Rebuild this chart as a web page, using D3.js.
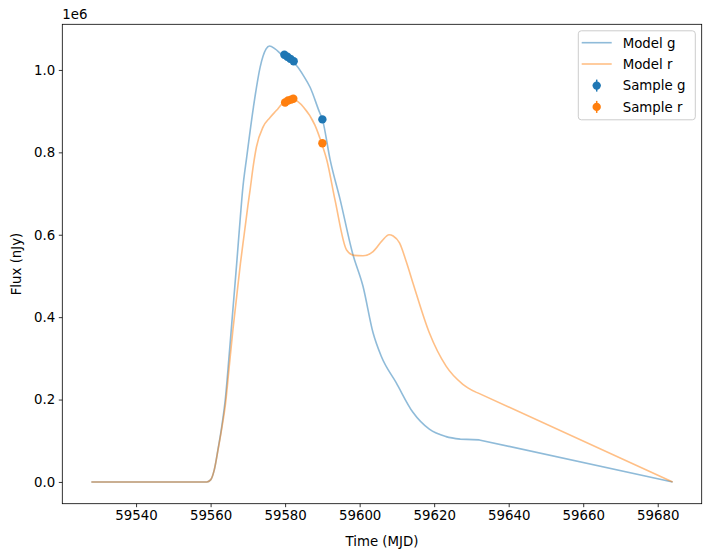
<!DOCTYPE html>
<html>
<head>
<meta charset="utf-8">
<script src="https://cdn.jsdelivr.net/npm/d3@7"></script>
<style>
  body { margin: 0; background: #fff; }
  svg { display: block; font-family: "DejaVu Sans", sans-serif; }
</style>
</head>
<body>
<svg id="chart" width="711" height="558"></svg>
<script>
// ---- Data (flux in nJy) ----
const modelGTime = [59528, 59540, 59559, 59560, 59561, 59562, 59563, 59564, 59565, 59566, 59567, 59568, 59568.6, 59569.7, 59571.5, 59573.3, 59574.9, 59575.8, 59577.3, 59579.1, 59581, 59583.1, 59585, 59586.7, 59589.2, 59590, 59592.1, 59594.8, 59598.1, 59600.9, 59603.6, 59605.8, 59609.8, 59614.3, 59618.7, 59623.2, 59627, 59632.1, 59684];
const modelGFlux = [0, 0, 0, 5000, 30000, 80000, 135000, 205000, 310000, 420000, 530000, 645000, 709000, 789000, 910000, 1007000, 1051000, 1058000, 1051000, 1037000, 1027000, 1010000, 985000, 958000, 898000, 880000, 781000, 684000, 555000, 475000, 362000, 305000, 241000, 169000, 128000, 110000, 104000, 102000, 0];

const modelRTime = [59528, 59540, 59559, 59560, 59561, 59562, 59563, 59564, 59565, 59566, 59567, 59568, 59569, 59570, 59570.6, 59571.5, 59572.3, 59574.1, 59575.9, 59577.7, 59579.1, 59581.3, 59582.5, 59584.9, 59588, 59589.8, 59591.2, 59593.4, 59596.5, 59598.5, 59600.9, 59603.6, 59606, 59607.9, 59609, 59610.7, 59612.5, 59614.3, 59618.7, 59623.2, 59627.7, 59631.2, 59632, 59684];
const modelRFlux = [0, 0, 0, 5000, 30000, 78000, 130000, 190000, 280000, 370000, 450000, 530000, 600000, 670000, 709000, 770000, 813000, 862000, 884000, 902000, 917000, 930000, 928000, 910000, 866000, 822000, 781000, 684000, 563000, 550000, 549000, 559000, 585000, 600000, 597000, 580000, 535000, 483000, 362000, 281000, 237000, 218000, 215000, 0];

// time after which the model is a straight line to the end
const linearTailStart = 59632;

const sampleGTime = [59579.8, 59580.6, 59581.4, 59582.3, 59590.0];
const sampleGFlux = [1037000, 1032000, 1027000, 1021000, 880000];
const sampleGErr  = [4000, 4000, 4000, 4000, 4000];

const sampleRTime = [59580.0, 59580.8, 59581.6, 59582.2, 59590.0];
const sampleRFlux = [921000, 926000, 928000, 930000, 822000];
const sampleRErr  = [4000, 4000, 4000, 4000, 4000];

const xTicks = [59540, 59560, 59580, 59600, 59620, 59640, 59660, 59680];
const yTicks = [0, 200000, 400000, 600000, 800000, 1000000];

const legendLabels = ["Model g", "Model r", "Sample g", "Sample r"];

// ---- Layout ----
const mLeft = 62.3, mRight = 701.7, mTop = 24.3, mBottom = 503.7;
const blue = "#1f77b4", orange = "#ff7f0e";

const svg = d3.select("#chart");

const x = d3.scaleLinear().domain([59520.2, 59691.8]).range([mLeft, mRight]);
const y = d3.scaleLinear().domain([-52800, 1110800]).range([mBottom, mTop]);

const smooth = d3.line().x(d => x(d[0])).y(d => y(d[1])).curve(d3.curveMonotoneX);
const straight = d3.line().x(d => x(d[0])).y(d => y(d[1])).curve(d3.curveLinear);

function modelPath(ts, fs) {
  const pts = ts.map((t, i) => [t, fs[i]]);
  const head = pts.filter(p => p[0] < linearTailStart);
  const tail = pts.filter(p => p[0] >= linearTailStart);
  const tailFull = [head[head.length - 1], ...tail];
  return smooth(head) + straight(tailFull).replace(/^M/, "L");
}

const plot = svg.append("g");

plot.append("path")
  .attr("d", modelPath(modelGTime, modelGFlux)).attr("fill", "none")
  .attr("stroke", blue).attr("stroke-opacity", 0.5).attr("stroke-width", 1.6)
  .attr("stroke-linejoin", "round");

plot.append("path")
  .attr("d", modelPath(modelRTime, modelRFlux)).attr("fill", "none")
  .attr("stroke", orange).attr("stroke-opacity", 0.5).attr("stroke-width", 1.6)
  .attr("stroke-linejoin", "round");

function drawSamples(ts, fs, es, color) {
  const g = plot.append("g");
  ts.forEach((t, i) => {
    g.append("line")
      .attr("x1", x(t)).attr("x2", x(t))
      .attr("y1", y(fs[i] - es[i])).attr("y2", y(fs[i] + es[i]))
      .attr("stroke", color).attr("stroke-width", 1.5);
    g.append("circle")
      .attr("cx", x(t)).attr("cy", y(fs[i])).attr("r", 4.2)
      .attr("fill", color);
  });
}
drawSamples(sampleGTime, sampleGFlux, sampleGErr, blue);
drawSamples(sampleRTime, sampleRFlux, sampleRErr, orange);

// ---- Axes ----
const xAxis = d3.axisBottom(x).tickValues(xTicks).tickSize(3.5).tickPadding(3.5).tickFormat(d3.format("d"));
const yAxis = d3.axisLeft(y).tickValues(yTicks).tickSize(3.5).tickPadding(3.5).tickFormat(d => (d / 1e6).toFixed(1));

const gx = svg.append("g").attr("transform", `translate(0,${mBottom})`).call(xAxis);
const gy = svg.append("g").attr("transform", `translate(${mLeft},0)`).call(yAxis);
[gx, gy].forEach(g => {
  g.select(".domain").remove();
  g.selectAll(".tick line").attr("stroke", "#000").attr("stroke-width", 0.8);
  g.selectAll(".tick text").attr("fill", "#000").style("font-size", "13.33px").style("font-family", "DejaVu Sans, sans-serif");
});

// frame
svg.append("rect")
  .attr("x", mLeft).attr("y", mTop).attr("width", mRight - mLeft).attr("height", mBottom - mTop)
  .attr("fill", "none").attr("stroke", "#000").attr("stroke-width", 0.8);

// labels
svg.append("text").attr("x", mLeft).attr("y", mTop - 5)
  .style("font-size", "13.33px").text("1e6");

svg.append("text")
  .attr("x", (mLeft + mRight) / 2).attr("y", 546)
  .attr("text-anchor", "middle").style("font-size", "13.33px").text("Time (MJD)");

svg.append("text")
  .attr("transform", `translate(21,${(mTop + mBottom) / 2}) rotate(-90)`)
  .attr("text-anchor", "middle").style("font-size", "13.33px").text("Flux (nJy)");

// ---- Legend ----
const lg = svg.append("g");
lg.append("rect")
  .attr("x", 578.3).attr("y", 30.8).attr("width", 117).attr("height", 89)
  .attr("rx", 3).attr("fill", "#fff").attr("fill-opacity", 0.8)
  .attr("stroke", "#ccc").attr("stroke-width", 1);

const rowY = [42.7, 64.0, 85.6, 106.9];
const legendColors = [blue, orange, blue, orange];
legendLabels.forEach((lab, i) => {
  const cy = rowY[i];
  if (i < 2) {
    lg.append("line").attr("x1", 581.7).attr("x2", 611.7).attr("y1", cy).attr("y2", cy)
      .attr("stroke", legendColors[i]).attr("stroke-opacity", 0.5).attr("stroke-width", 1.6);
  } else {
    lg.append("line").attr("x1", 596.7).attr("x2", 596.7).attr("y1", cy - 6).attr("y2", cy + 6)
      .attr("stroke", legendColors[i]).attr("stroke-width", 1.5);
    lg.append("circle").attr("cx", 596.7).attr("cy", cy).attr("r", 4.2).attr("fill", legendColors[i]);
  }
  lg.append("text").attr("x", 622.7).attr("y", cy + 4.8)
    .style("font-size", "13.33px").text(lab);
});
</script>
</body>
</html>
